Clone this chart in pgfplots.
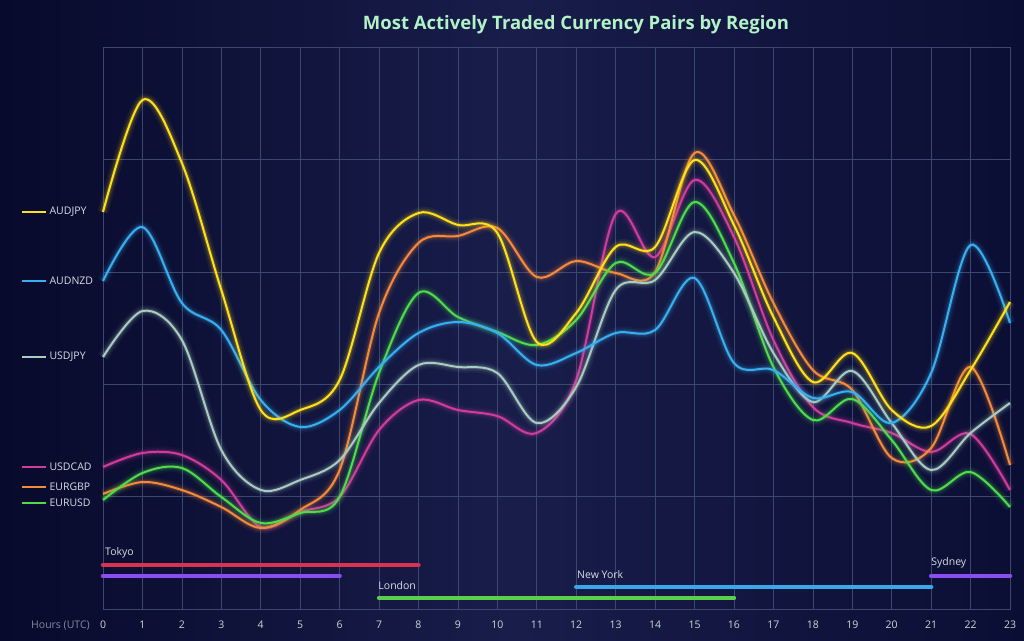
\documentclass[border=0pt]{standalone}
\usepackage{pgfplots}
\pgfplotsset{compat=1.18}
\usepackage{pgfplotstable}
\usepackage{fontspec}
\setmainfont{Open Sans}
\definecolor{bgdark}{HTML}{080A2C}
\definecolor{bgmid}{HTML}{181D4A}
\definecolor{bgright}{HTML}{0B0E34}
\definecolor{gridc}{HTML}{3A4870}
\definecolor{titlec}{HTML}{B2F2C8}
\definecolor{labc}{HTML}{D6DCE6}
\definecolor{tickc}{HTML}{C8D8D4}
\definecolor{hourc}{HTML}{7F8AA0}
\definecolor{cAUDJPY}{HTML}{FFE01A}
\definecolor{cAUDNZD}{HTML}{38B0F0}
\definecolor{cUSDJPY}{HTML}{A8CCC0}
\definecolor{cUSDCAD}{HTML}{D03C9C}
\definecolor{cEURGBP}{HTML}{F58A3A}
\definecolor{cEURUSD}{HTML}{4EDC4A}
\definecolor{sRed}{HTML}{D8344F}
\definecolor{sPurple}{HTML}{8B4CF0}
\definecolor{sGreen}{HTML}{5CCF4A}
\definecolor{sBlue}{HTML}{3AA8E8}

\pgfplotstableread{
h AUDJPY AUDNZD USDJPY USDCAD EURGBP EURUSD
0 397 328 252 142 115 109
1 509 382 298 156 127 136
2 446 306 269 154 119 141
3 319 279 159 129 102 112
4 199 209 119 82 81 86
5 199 182 129 97 99 96
6 229 199 149 112 139 112
7 356 242 206 179 296 236
8 396 276 244 209 366 316
9 384 287 242 199 373 292
10 376 276 236 193 381 277
11 267 244 186 176 332 264
12 296 256 222 229 348 289
13 362 276 319 395 336 346
14 362 279 329 352 337 336
15 449 331 377 429 456 407
16 384 246 336 372 394 346
17 292 239 256 269 306 242
18 227 211 207 202 239 189
19 256 217 238 186 219 210
20 199 186 186 176 151 169
21 183 236 139 157 161 119
22 239 364 176 175 242 137
23 307 286 206 119 144 102
}\datatable

\newcommand{\glow}[1]{%
  \addplot[c#1, line width=11pt, opacity=0.06, smooth, tension=0.55] table[x=h,y=#1]{\datatable};
  \addplot[c#1, line width=7pt, opacity=0.10, smooth, tension=0.55] table[x=h,y=#1]{\datatable};
  \addplot[c#1, line width=4pt, opacity=0.18, smooth, tension=0.55] table[x=h,y=#1]{\datatable};
  \addplot[c#1, line width=2pt, smooth, tension=0.55] table[x=h,y=#1]{\datatable};
}
\newcommand{\leg}[2]{%
  \addplot[c#1, line width=2pt] coordinates {(-2.054,#2) (-1.446,#2)};
  \node[anchor=west, text=labc, font=\fontsize{10.5}{12}\selectfont, inner sep=0pt] at (axis cs:-1.36,#2) {#1};
}

\begin{document}
\begin{tikzpicture}
\useasboundingbox (0,0) rectangle (1024pt,640pt);
\shade[left color=bgdark, right color=bgright, middle color=bgmid] (0,0) rectangle (1024pt,640pt);
\node[font=\fontsize{18.5}{20}\selectfont\bfseries, text=titlec] at (576pt,615pt) {Most Actively Traded Currency Pairs by Region};
\node[anchor=base east, font=\fontsize{10.5}{12}\selectfont, text=hourc, inner sep=0pt] at (90pt,12pt) {Hours (UTC)};
\begin{axis}[
  at={(103pt,31pt)}, anchor=south west,
  scale only axis, width=907pt, height=561.5pt,
  xmin=0, xmax=23, ymin=0, ymax=561.5,
  xtick={0,...,23}, ytick={0,112.3,224.6,336.9,449.2,561.5},
  yticklabels={},
  major tick length=0pt,
  grid=both, grid style={gridc, line width=0.6pt},
  axis line style={gridc, line width=0.6pt},
  xticklabel style={anchor=base, yshift=-19pt, text=tickc, font=\fontsize{10.5}{12}\selectfont},
  /pgf/number format/assume math mode=true,
  clip=false,
]
% sessions
\addplot[sRed, line width=4.5pt, line cap=round] coordinates {(0,44) (8,44)};
\addplot[sPurple, line width=4.5pt, line cap=round] coordinates {(0,33) (6,33)};
\addplot[sBlue, line width=4.5pt, line cap=round] coordinates {(12,22) (21,22)};
\addplot[sGreen, line width=4.5pt, line cap=round] coordinates {(7,11) (16,11)};
\addplot[sPurple, line width=4.5pt, line cap=round] coordinates {(21,33) (23,33)};
\node[anchor=west, text=labc, font=\fontsize{10.5}{12}\selectfont, inner sep=0pt] at (axis cs:0.05,56) {Tokyo};
\node[anchor=west, text=labc, font=\fontsize{10.5}{12}\selectfont, inner sep=0pt] at (axis cs:6.98,23) {London};
\node[anchor=west, text=labc, font=\fontsize{10.5}{12}\selectfont, inner sep=0pt] at (axis cs:12.02,34) {New York};
\node[anchor=west, text=labc, font=\fontsize{10.5}{12}\selectfont, inner sep=0pt] at (axis cs:21.0,46) {Sydney};
% series
\glow{USDCAD}
\glow{EURGBP}
\glow{EURUSD}
\glow{USDJPY}
\glow{AUDNZD}
\glow{AUDJPY}
% legend
\leg{AUDJPY}{397}
\leg{AUDNZD}{328}
\leg{USDJPY}{252}
\leg{USDCAD}{142}
\leg{EURGBP}{122}
\leg{EURUSD}{106}
\end{axis}
\end{tikzpicture}
\end{document}
